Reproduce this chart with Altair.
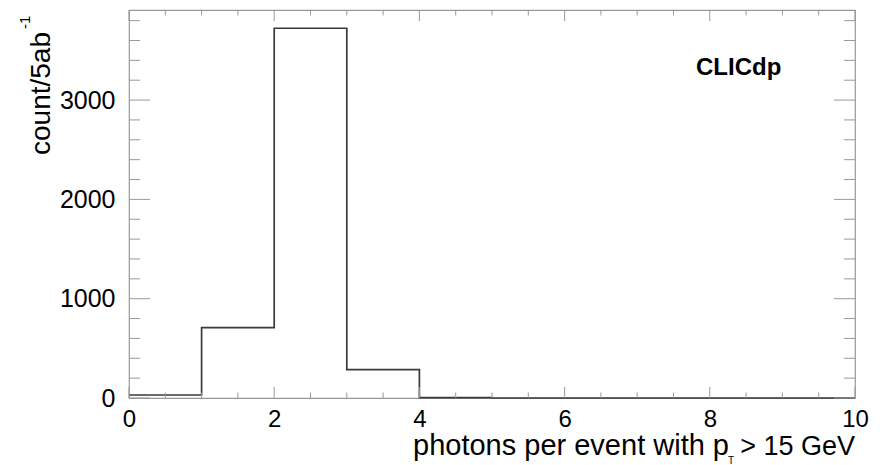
import altair as alt
import pandas as pd

# ---- data ----
bin_edges = [0, 1, 2, 3, 4, 5, 6, 7, 8, 9, 10]
counts = [30, 708, 3723, 285, 3, 0, 0, 0, 0, 0]

x_major_ticks = [0, 2, 4, 6, 8, 10]
x_minor_ticks = [0.5, 1, 1.5, 2.5, 3, 3.5, 4.5, 5, 5.5, 6.5, 7, 7.5, 8.5, 9, 9.5]
y_major_ticks = [0, 1000, 2000, 3000]
y_minor_ticks = [200, 400, 600, 800, 1200, 1400, 1600, 1800, 2200, 2400, 2600,
                 2800, 3200, 3400, 3600, 3800]

x_title_main = "photons per event with p"
x_title_sub = "T"
x_title_end = "> 15 GeV"
y_title_main = "count/5ab"
y_title_sup = "-1"
label_text = "CLICdp"

W, H = 726, 388
FONT = "Liberation Sans"
FRAME = "#999999"
X_DOMAIN = [0, 10]
Y_DOMAIN = [0, 3907]

hist = pd.DataFrame({"x": bin_edges, "y": counts + [counts[-1]]})

xs = alt.Scale(domain=X_DOMAIN, nice=False, zero=False)
ys = alt.Scale(domain=Y_DOMAIN, nice=False)

x_axis = alt.Axis(
    values=x_major_ticks, title=None, grid=False, domain=False, ticks=False,
    tickSize=0, labelFontSize=24, labelFont=FONT, labelColor="black",
    labelPadding=9, labelFlush=False, labelOverlap=False)
y_axis = alt.Axis(
    values=y_major_ticks, title=None, grid=False, domain=False, ticks=False,
    tickSize=0, labelFontSize=25, labelFont=FONT, labelColor="black",
    labelPadding=14, format="d", labelOverlap=False)

line = alt.Chart(hist).mark_line(
    interpolate="step-after", color="#3a3a3a", strokeWidth=1.7
).encode(
    x=alt.X("x:Q", scale=xs, axis=x_axis),
    y=alt.Y("y:Q", scale=ys, axis=y_axis),
)


def xrules(vals, y0, y1):
    return alt.Chart(pd.DataFrame({"x": vals})).mark_rule(
        color=FRAME, strokeWidth=1
    ).encode(
        x=alt.X("x:Q", scale=xs, axis=x_axis),
        y=alt.value(y0), y2=alt.value(y1),
    )


def yrules(vals, x0, x1):
    return alt.Chart(pd.DataFrame({"y": vals})).mark_rule(
        color=FRAME, strokeWidth=1
    ).encode(
        y=alt.Y("y:Q", scale=ys, axis=y_axis),
        x=alt.value(x0), x2=alt.value(x1),
    )


ticks = [
    xrules(x_major_ticks, H, H - 11),
    xrules(x_minor_ticks, H, H - 5.5),
    xrules(x_major_ticks, 0, 11),
    xrules(x_minor_ticks, 0, 5.5),
    yrules(y_major_ticks, 0, 21),
    yrules(y_minor_ticks, 0, 11),
    yrules(y_major_ticks, W, W - 21),
    yrules(y_minor_ticks, W, W - 11),
]


def txt(t, x, y, size, align="left", baseline="alphabetic", angle=0, bold=False):
    kw = dict(align=align, baseline=baseline, fontSize=size, font=FONT,
              color="black")
    if angle:
        kw["angle"] = angle
    if bold:
        kw["fontWeight"] = "bold"
    return alt.Chart(pd.DataFrame({"t": [t]})).mark_text(**kw).encode(
        x=alt.value(x), y=alt.value(y), text="t:N"
    )


texts = [
    txt(x_title_main, 600, 445, 29, align="right"),
    txt(x_title_sub, 602, 454, 10, align="center"),
    txt(x_title_end, W, 445, 27, align="right"),
    txt(y_title_main, -79, 22, 28, align="right", angle=270),
    txt(y_title_sup, -99, 19, 15, align="left", angle=270),
    txt(label_text, 567, 65, 24, bold=True),
]

chart = alt.layer(line, *ticks, *texts).properties(
    width=W, height=H,
    autosize=alt.AutoSizeParams(type="none"),
    padding={"left": 129, "top": 10, "right": 27, "bottom": 67},
    background="white",
).configure_view(stroke=FRAME, strokeWidth=1.2)

chart.save("out.html", embed_options={"renderer": "svg", "actions": False})
